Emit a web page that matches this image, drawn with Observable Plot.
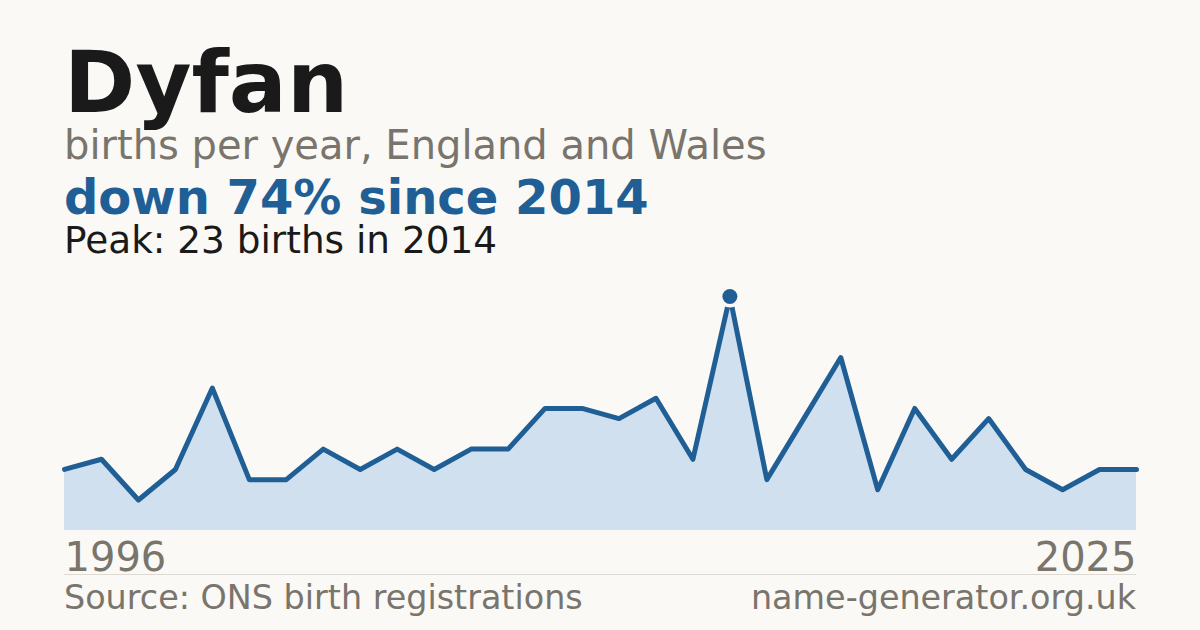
<!DOCTYPE html>
<html>
<head>
<meta charset="utf-8">
<script src="https://cdn.jsdelivr.net/npm/d3@7"></script>
<script src="https://cdn.jsdelivr.net/npm/@observablehq/plot@0.6"></script>
<style>
  html, body { margin: 0; padding: 0; background: #faf9f5; }
  #card { position: relative; width: 1200px; height: 630px; background: #faf9f5; overflow: hidden; font-family: "DejaVu Sans", sans-serif; }
  .t { position: absolute; left: 64px; line-height: 1; white-space: nowrap; }
  #title { top: 39.2px; font-size: 86px; font-weight: bold; color: #1a1a1a; }
  #sub { top: 125.2px; font-size: 40px; color: #79746c; }
  #change { top: 173.4px; font-size: 48px; font-weight: bold; color: #1f5f96; }
  #peak { top: 222px; font-size: 37.4px; color: #1a1a1a; }
  #rule { position: absolute; left: 64px; width: 1072px; top: 574px; height: 1px; background: #dedad2; }
  #src { top: 581.2px; font-size: 33.4px; color: #79746c; }
  #site { top: 581.2px; left: auto; right: 64px; font-size: 33.4px; color: #79746c; }
  #chart { position: absolute; left: 0; top: 270px; }
</style>
</head>
<body>
<div id="card">
  <div class="t" id="title">Dyfan</div>
  <div class="t" id="sub">births per year, England and Wales</div>
  <div class="t" id="change">down 74% since 2014</div>
  <div class="t" id="peak">Peak: 23 births in 2014</div>
  <div id="chart"></div>
  <div id="rule"></div>
  <div class="t" id="src">Source: ONS birth registrations</div>
  <div class="t" id="site">name-generator.org.uk</div>
</div>
<script>
const years = d3.range(1996, 2026);
const births = [6, 7, 3, 6, 14, 5, 5, 8, 6, 8, 6, 8, 8, 12, 12, 11, 13, 7, 23, 5, 11, 17, 4, 12, 7, 11, 6, 4, 6, 6];
const peakYear = 2014;
const endLabels = ["1996", "2025"];

const blue = "#1f5f96";
const bg = "#faf9f5";
const data = years.map((y, i) => ({year: y, births: births[i]}));
const peak = data.filter(d => d.year === peakYear);
const ends = [
  {year: years[0], label: endLabels[0], anchor: "start"},
  {year: years[years.length - 1], label: endLabels[1], anchor: "end"}
];

const chart = Plot.plot({
  width: 1200,
  height: 310,
  marginLeft: 64,
  marginRight: 64,
  marginTop: 26,
  marginBottom: 50,
  style: {background: "transparent", fontFamily: "DejaVu Sans, sans-serif", overflow: "visible"},
  x: {domain: [years[0], years[years.length - 1]], axis: null},
  y: {domain: [0, 23], axis: null},
  marks: [
    Plot.areaY(data, {x: "year", y: "births", fill: "#d0e0ef"}),
    Plot.lineY(data, {x: "year", y: "births", stroke: blue, strokeWidth: 5, strokeLinejoin: "round"}),
    Plot.dot(peak, {x: "year", y: "births", r: 11, fill: bg, stroke: "none"}),
    Plot.dot(peak, {x: "year", y: "births", r: 7.5, fill: blue, stroke: "none"}),
    Plot.text(ends.filter(d => d.anchor === "start"), {x: "year", y: () => 0, text: "label", textAnchor: "start", lineAnchor: "bottom", dy: 40, fontSize: 40, fill: "#79746c"}),
    Plot.text(ends.filter(d => d.anchor === "end"), {x: "year", y: () => 0, text: "label", textAnchor: "end", lineAnchor: "bottom", dy: 40, fontSize: 40, fill: "#79746c"})
  ]
});
document.getElementById("chart").appendChild(chart);
</script>
</body>
</html>
